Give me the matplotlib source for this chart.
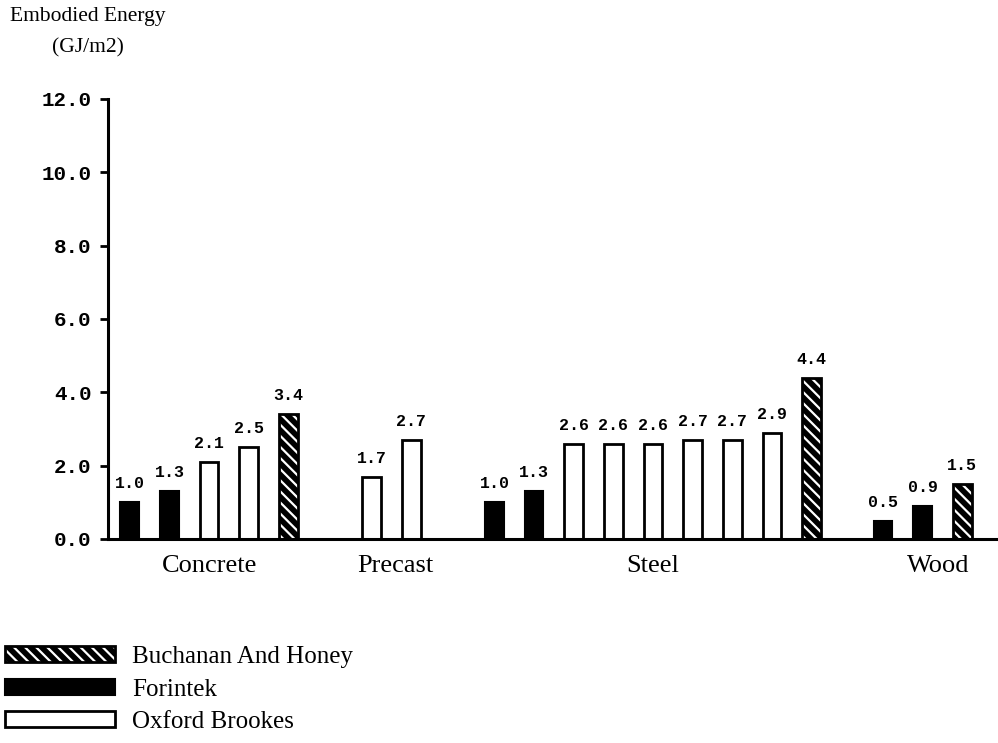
import numpy as np
import matplotlib
matplotlib.use("Agg")
import matplotlib.pyplot as plt
from matplotlib.patches import Patch
from matplotlib.legend_handler import HandlerTuple

# === DATA
groups = ["Concrete", "Precast", "Steel", "Wood"]

concrete_src = ["Forintek", "Forintek", "Oxford Brookes", "Oxford Brookes", "Buchanan And Honey"]
concrete_val = [1.0, 1.3, 2.1, 2.5, 3.4]

precast_src = ["Oxford Brookes", "Oxford Brookes"]
precast_val = [1.7, 2.7]

steel_src = ["Forintek", "Forintek"] + ["Oxford Brookes"] * 6 + ["Buchanan And Honey"]
steel_val = [1.0, 1.3, 2.6, 2.6, 2.6, 2.7, 2.7, 2.9, 4.4]

wood_src = ["Forintek", "Forintek", "Buchanan And Honey"]
wood_val = [0.5, 0.9, 1.5]

sources = [concrete_src, precast_src, steel_src, wood_src]
values = [concrete_val, precast_val, steel_val, wood_val]

legend_order = ["Buchanan And Honey", "Forintek", "Oxford Brookes"]
yticks = [0, 2, 4, 6, 8, 10, 12]

# === LAYOUT
group_start = [0.0, 6.1, 9.2, 19.0]
label_shift = [0.0, 0.1, 0.0, 0.4]
bar_w = 0.47
hatch = "\\\\\\"

plt.rcParams["hatch.linewidth"] = 1.6
serif = "Liberation Serif"
mono = "Liberation Mono"

fig = plt.figure(figsize=(9.98, 7.43), dpi=100)
ax = fig.add_axes([108 / 998, 204 / 743, 890 / 998, 440 / 743])


def draw_bar(x, v, src):
    if src == "Forintek":
        ax.bar(x, v, width=bar_w, color="black", edgecolor="black", linewidth=1.5)
    elif src == "Oxford Brookes":
        ax.bar(x, v, width=bar_w, color="white", edgecolor="black", linewidth=2.0)
    else:
        ax.bar(x, v, width=bar_w, color="black", edgecolor="white", linewidth=0, hatch=hatch)
        ax.bar(x, v, width=bar_w, fill=False, edgecolor="black", linewidth=2.0)
    ax.annotate(f"{v:.1f}", (x, v), xytext=(0, 8), textcoords="offset points",
                ha="center", va="bottom", fontsize=12, fontweight="bold", family=mono)


label_x = []
for start, src, vals, shift in zip(group_start, sources, values, label_shift):
    xs = start + np.arange(len(vals))
    for x, v, s in zip(xs, vals, src):
        draw_bar(x, v, s)
    label_x.append(xs.mean() + shift)

# Category labels
for x, g in zip(label_x, groups):
    ax.text(x, -0.75, g, ha="center", va="center", fontsize=19, family=serif)

# Axes styling
ax.set_xlim(-0.55, 21.9)
ax.set_ylim(0, 12)
ax.set_xticks([])
ax.set_yticks(yticks)
ax.set_yticklabels([f"{t:.1f}" for t in yticks], fontsize=15, fontweight="bold", family=mono)
ax.tick_params(axis="y", direction="out", length=6, width=2, pad=6)
for s in ["top", "right"]:
    ax.spines[s].set_visible(False)
ax.spines["left"].set_linewidth(2.2)
ax.spines["bottom"].set_linewidth(2.2)

# Y label
fig.text(88 / 998, 1 - 32 / 743, "Embodied Energy\n(GJ/m2)", ha="center", va="center",
         fontsize=15.5, family=serif, linespacing=1.85)

# Legend
handles = {
    "Buchanan And Honey": (Patch(facecolor="black", edgecolor="white", linewidth=0, hatch=hatch),
                           Patch(fill=False, edgecolor="black", linewidth=2.0)),
    "Forintek": Patch(facecolor="black", edgecolor="black", linewidth=1.5),
    "Oxford Brookes": Patch(facecolor="white", edgecolor="black", linewidth=2.0),
}
fig.legend([handles[k] for k in legend_order], legend_order,
           handler_map={tuple: HandlerTuple(ndivide=1, pad=0)},
           loc="upper left", bbox_to_anchor=(5 / 998, 1 - 646 / 743),
           frameon=False, prop={"family": serif, "size": 18},
           handlelength=4.4, handleheight=0.6, handletextpad=0.7,
           labelspacing=0.42, borderpad=0, borderaxespad=0)

plt.savefig("out.png", dpi=100)
